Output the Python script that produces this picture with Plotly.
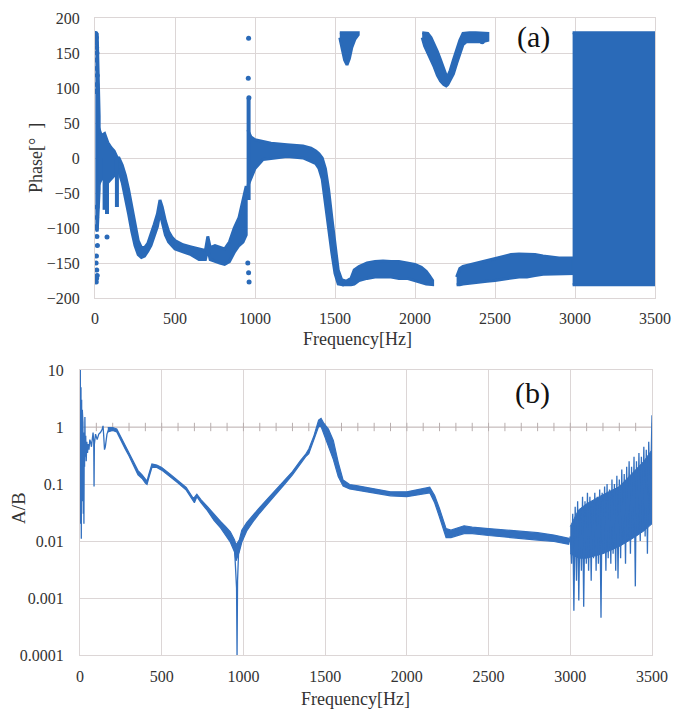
import plotly.graph_objects as go

BLUE = "#2a6ab8"
LBLUE = "#3370bf"
GRID = "#dcd6d6"
TXT = "#333333"
FONT = "Liberation Serif"

# ---------------- Panel (a): phase ----------------
A_F = [2, 14, 26]
A_HI = [176, 176, 60]
A_LO = [-95, -105, -45]
B_F = [20, 40, 60, 80, 100, 120, 140]
B_HI = [45, 32, 35, 22, 15, 10, 0]
B_LO = [-40, -30, -30, -35, -30, -25, -20]
C_F = [140, 150, 170, 190, 210, 230, 250, 270, 290, 310, 330, 350, 370, 390, 406, 420, 440, 460, 480, 500,
       550, 600, 650, 690, 705, 720, 750, 780, 810, 840, 870, 900, 925, 945]
C_HI = [0, 0, -10, -25, -45, -70, -95, -118, -128, -128, -122, -110, -95, -80, -60, -70, -90, -105, -113, -118,
        -124, -127, -130, -132, -112, -128, -125, -128, -130, -120, -100, -85, -60, -40]
C_LO = [-15, -20, -35, -55, -80, -105, -125, -138, -142, -140, -133, -125, -113, -98, -78, -90, -110, -120, -125, -130,
        -134, -138, -145, -145, -130, -145, -148, -150, -152, -148, -135, -125, -120, -110]
E_F = [955, 975, 1000, 1050, 1100, 1200, 1300, 1350, 1380, 1400, 1420, 1440, 1460, 1480, 1500, 1520, 1545]
E_HI = [40, 30, 26, 24, 21, 19, 17, 14, 10, 6, 0, -15, -45, -85, -125, -160, -176]
E_LO = [-40, -30, -15, -2, 0, 2, 0, -5, -8, -15, -30, -60, -100, -135, -165, -180, -181]
F_F = [1545, 1570, 1600, 1620, 1650, 1700, 1750, 1800, 1850, 1900, 1950, 2000, 2040, 2070, 2090, 2110]
F_HI = [-174, -176, -172, -160, -155, -150, -148, -147, -148, -148, -150, -152, -156, -162, -168, -175]
F_LO = [-181, -181, -181, -180, -175, -172, -170, -170, -170, -172, -172, -175, -178, -180, -181, -181]
G_F = [2260, 2280, 2300, 2350, 2400, 2450, 2500, 2550, 2600, 2650, 2700, 2750, 2800, 2850, 2900, 2950, 2990]
G_HI = [-170, -158, -155, -152, -150, -147, -143, -140, -138, -137, -137, -138, -140, -142, -143, -143, -143]
G_LO = [-181, -181, -180, -178, -177, -176, -175, -173, -172, -170, -170, -168, -166, -166, -166, -165, -165]
H_F = [2985, 3000, 3500]
H_HI = [179, 179, 179]
H_LO = [-181, -181, -181]
I_F = [1530, 1543, 1560, 1575, 1590, 1605, 1625, 1645]
I_HI = [179, 179, 179, 179, 179, 179, 179, 179]
I_LO = [172, 158, 140, 133, 142, 158, 170, 176]
J_F = [2045, 2060, 2080, 2100, 2120, 2140, 2160, 2180, 2195, 2205, 2220, 2240, 2260, 2280, 2300, 2320, 2340, 2380, 2420, 2455]
J_HI = [179, 179, 178, 172, 163, 152, 140, 128, 118, 117, 125, 140, 155, 168, 178, 179, 179, 179, 179, 178]
J_LO = [172, 160, 150, 140, 130, 118, 110, 105, 103, 105, 110, 120, 135, 150, 162, 166, 166, 166, 166, 168]
SEG_F = [60, 75, 137, 960]
SEG_TOP = [0, 0, 0, 86]
SEG_BOT = [-74, -80, -70, -60]
DOT_F = [5, 8, 6, 10, 12, 7, 9, 14, 11, 6, 13, 10, 8, 12, 15, 9, 7, 11, 14, 10, 8,
         960, 958, 962, 955, 960, 963, 75, 2420]
DOT_P = [178, 172, 165, 158, 150, 140, 128, 118, 105, 95, -70, -85, -100, -112, -125, -140, -150, -160, -168, -172, -177,
         171, 114, 86, -150, -164, -177, -113, 166]

# ---------------- Panel (b): A/B ----------------
LOWF_F = [0, 2, 4, 6, 8, 10, 12, 14, 16, 18, 20, 22, 24, 26, 28, 30, 32, 35, 38, 42, 46, 50, 55, 60, 65, 70,
          76, 80, 84, 86, 88, 95, 105, 115, 125, 135, 141, 145, 150, 155, 165, 175]
LOWF_V = [0.5, 10, 0.02, 5, 0.011, 3, 0.05, 2, 0.3, 1.2, 0.03, 0.8, 0.02, 0.6, 0.2, 1.5, 0.3, 0.7, 0.25, 0.55,
          0.35, 0.5, 0.4, 0.6, 0.55, 0.45, 0.7, 0.8, 0.55, 0.09, 0.5, 0.75, 0.6, 0.75, 0.8, 0.9, 1.05, 0.7, 0.4,
          0.45, 0.75, 0.9]
MB_F = [170, 200, 225, 250, 275, 300, 330, 355, 380, 400, 410, 420, 440, 470, 500, 550, 600, 650, 690, 700, 715,
        740, 780, 820, 860, 890, 920, 945, 955, 975, 990, 1020, 1060, 1100, 1150, 1200, 1250, 1300, 1350, 1380,
        1400, 1430, 1460, 1475, 1490, 1520, 1550, 1580, 1610, 1650, 1700, 1800, 1900, 2000, 2100, 2140, 2170,
        2200, 2240, 2270, 2350, 2400, 2500, 2600, 2700, 2800, 2900, 2990]
MB_LO = [0.82, 0.87, 0.82, 0.57, 0.42, 0.31, 0.21, 0.145, 0.125, 0.104, 0.098, 0.125, 0.195, 0.195, 0.175, 0.135, 0.104,
         0.078, 0.052, 0.047, 0.06, 0.047, 0.034, 0.023, 0.017, 0.0125, 0.0095, 0.0065, 0.0045, 0.0065, 0.0095, 0.015,
         0.022, 0.031, 0.047, 0.067, 0.098, 0.145, 0.23, 0.3, 0.34, 0.57, 1.02, 1.02, 0.78, 0.47, 0.27, 0.135, 0.092,
         0.082, 0.077, 0.069, 0.062, 0.06, 0.067, 0.07, 0.047, 0.026, 0.0115, 0.0115, 0.0135, 0.0135, 0.0125, 0.0115,
         0.011, 0.0104, 0.0098, 0.0088]
MB_HI = [0.98, 0.98, 0.92, 0.67, 0.5, 0.36, 0.25, 0.172, 0.145, 0.12, 0.112, 0.145, 0.225, 0.215, 0.195, 0.15, 0.116,
         0.087, 0.058, 0.058, 0.066, 0.053, 0.04, 0.029, 0.022, 0.018, 0.0145, 0.0105, 0.0085, 0.0105, 0.0155, 0.021,
         0.029, 0.039, 0.056, 0.08, 0.112, 0.165, 0.26, 0.33, 0.41, 0.68, 1.32, 1.42, 1.18, 0.92, 0.58, 0.24, 0.117,
         0.098, 0.093, 0.083, 0.073, 0.073, 0.083, 0.088, 0.063, 0.037, 0.0165, 0.0155, 0.0185, 0.0175, 0.0165, 0.0155,
         0.0145, 0.014, 0.0127, 0.0112]
DIP_F = [945, 952, 958, 961, 964, 970, 978]
DIP_V = [0.008, 0.004, 0.0015, 0.0001, 0.002, 0.006, 0.009]
NB_F = [3000, 3050, 3100, 3200, 3300, 3400, 3450, 3500]
NB_LO = [0.006, 0.005, 0.005, 0.006, 0.008, 0.012, 0.015, 0.02]
NB_HI = [0.018, 0.035, 0.045, 0.065, 0.09, 0.18, 0.25, 0.4]
NZ_F = [2990, 3000, 3008, 3015, 3022, 3030, 3038, 3045, 3052, 3060, 3068, 3075, 3082, 3090, 3098, 3105, 3112,
        3120, 3128, 3135, 3142, 3150, 3158, 3165, 3172, 3180, 3188, 3195, 3202, 3210, 3218, 3225, 3232, 3240,
        3248, 3255, 3262, 3270, 3278, 3285, 3292, 3300, 3308, 3315, 3322, 3330, 3338, 3345, 3352, 3360, 3368,
        3375, 3382, 3390, 3398, 3405, 3412, 3420, 3428, 3435, 3442, 3450, 3458, 3465, 3472, 3480, 3488, 3495, 3500]
NZ_V = [0.009, 0.012, 0.004, 0.03, 0.0006, 0.04, 0.002, 0.05, 0.0009, 0.035, 0.003, 0.06, 0.0007, 0.05, 0.004,
        0.07, 0.003, 0.06, 0.002, 0.05, 0.005, 0.07, 0.003, 0.06, 0.004, 0.08, 0.00045, 0.07, 0.006, 0.09, 0.003,
        0.1, 0.005, 0.08, 0.004, 0.12, 0.006, 0.1, 0.003, 0.14, 0.0022, 0.12, 0.005, 0.18, 0.009, 0.15, 0.004,
        0.2, 0.01, 0.25, 0.006, 0.2, 0.012, 0.3, 0.0016, 0.25, 0.015, 0.35, 0.01, 0.3, 0.02, 0.45, 0.012, 0.4,
        0.006, 0.55, 0.03, 0.7, 1.6]
REF_TICKS = list(range(0, 3501, 100))

fig = go.Figure()


def band(f, lo, hi, xa, ya, color=BLUE, lw=3):
    fig.add_trace(go.Scatter(x=list(f) + list(f)[::-1], y=list(hi) + list(lo)[::-1],
                             fill="toself", fillcolor=color, mode="lines",
                             line=dict(color=color, width=lw), xaxis=xa, yaxis=ya,
                             hoverinfo="skip", showlegend=False))


for f, lo, hi in [(A_F, A_LO, A_HI), (B_F, B_LO, B_HI), (C_F, C_LO, C_HI), (E_F, E_LO, E_HI),
                  (F_F, F_LO, F_HI), (G_F, G_LO, G_HI), (H_F, H_LO, H_HI), (I_F, I_LO, I_HI), (J_F, J_LO, J_HI)]:
    band(f, lo, hi, "x", "y", lw=3)
for f, t, b in zip(SEG_F, SEG_TOP, SEG_BOT):
    fig.add_trace(go.Scatter(x=[f, f], y=[t, b], mode="lines", line=dict(color=BLUE, width=4),
                             xaxis="x", yaxis="y", showlegend=False, hoverinfo="skip"))
fig.add_trace(go.Scatter(x=DOT_F, y=DOT_P, mode="markers", marker=dict(color=BLUE, size=5),
                         xaxis="x", yaxis="y", showlegend=False))

fig.add_trace(go.Scatter(x=REF_TICKS, y=[1] * len(REF_TICKS), mode="lines+markers",
                         line=dict(color="#c9c0c0", width=1),
                         marker=dict(symbol="line-ns", size=6, line=dict(color="#b8aeae", width=1)),
                         xaxis="x2", yaxis="y2", showlegend=False, hoverinfo="skip"))
band(MB_F, MB_LO, MB_HI, "x2", "y2", color=LBLUE, lw=1.2)
band(NB_F, NB_LO, NB_HI, "x2", "y2", color=LBLUE, lw=1)
for f, v in [(LOWF_F, LOWF_V), (DIP_F, DIP_V), (NZ_F, NZ_V)]:
    fig.add_trace(go.Scatter(x=f, y=v, mode="lines", line=dict(color=LBLUE, width=1.3),
                             xaxis="x2", yaxis="y2", showlegend=False))

# page body margin is removed via post_script below; positions are screen pixels
W, H = 674, 715


def px(x):
    return x / W


def py(y):
    return 1 - y / H


axfont = dict(family=FONT, size=16, color=TXT)
common = dict(showgrid=True, gridcolor=GRID, gridwidth=1, zeroline=False, showline=True, automargin=False,
              linecolor=GRID, linewidth=1, mirror=True, ticks="", tickfont=axfont)
TV = [0, 500, 1000, 1500, 2000, 2500, 3000, 3500]

annots = [
    dict(text="Frequency[Hz]", x=px(357), y=py(339), font=dict(family=FONT, size=18, color=TXT)),
    dict(text="Frequency[Hz]", x=px(355), y=py(699), font=dict(family=FONT, size=18, color=TXT)),
    dict(text="Phase[°  ]", x=px(36), y=py(158), textangle=-90, font=dict(family=FONT, size=18, color=TXT)),
    dict(text="A/B", x=px(18), y=py(508), textangle=-90, font=dict(family=FONT, size=19, color=TXT)),
    dict(text="(a)", x=px(533), y=py(37), font=dict(family=FONT, size=30, color="#111111")),
    dict(text="(b)", x=px(532), y=py(393), font=dict(family=FONT, size=30, color="#111111")),
]
for a in annots:
    a.update(xref="paper", yref="paper", showarrow=False, xanchor="center", yanchor="middle")

fig.update_layout(
    width=W, height=H, margin=dict(l=0, r=0, t=0, b=0, autoexpand=False),
    paper_bgcolor="white", plot_bgcolor="white", showlegend=False,
    font=dict(family=FONT, color=TXT),
    xaxis=dict(domain=[px(95), px(655)], range=[0, 3500], tickvals=TV,
               anchor="y", ticklabelstandoff=6, **common),
    yaxis=dict(domain=[py(298), py(18)], range=[-200, 200], dtick=50, anchor="x",
               ticklabelstandoff=11, **common),
    xaxis2=dict(domain=[px(80), px(652)], range=[0, 3500], tickvals=TV,
                anchor="y2", ticklabelstandoff=7, **common),
    yaxis2=dict(domain=[py(655), py(370)], type="log", range=[-4, 1], anchor="x2",
                tickvals=[0.0001, 0.001, 0.01, 0.1, 1, 10], ticktext=["0.0001", "0.001", "0.01", "0.1", "1", "10"],
                ticklabelstandoff=12, **common),
    annotations=annots,
)

fig.write_html("out.html", config={"displayModeBar": False},
               post_script="document.body.style.margin='0';document.documentElement.style.overflow='hidden';")
